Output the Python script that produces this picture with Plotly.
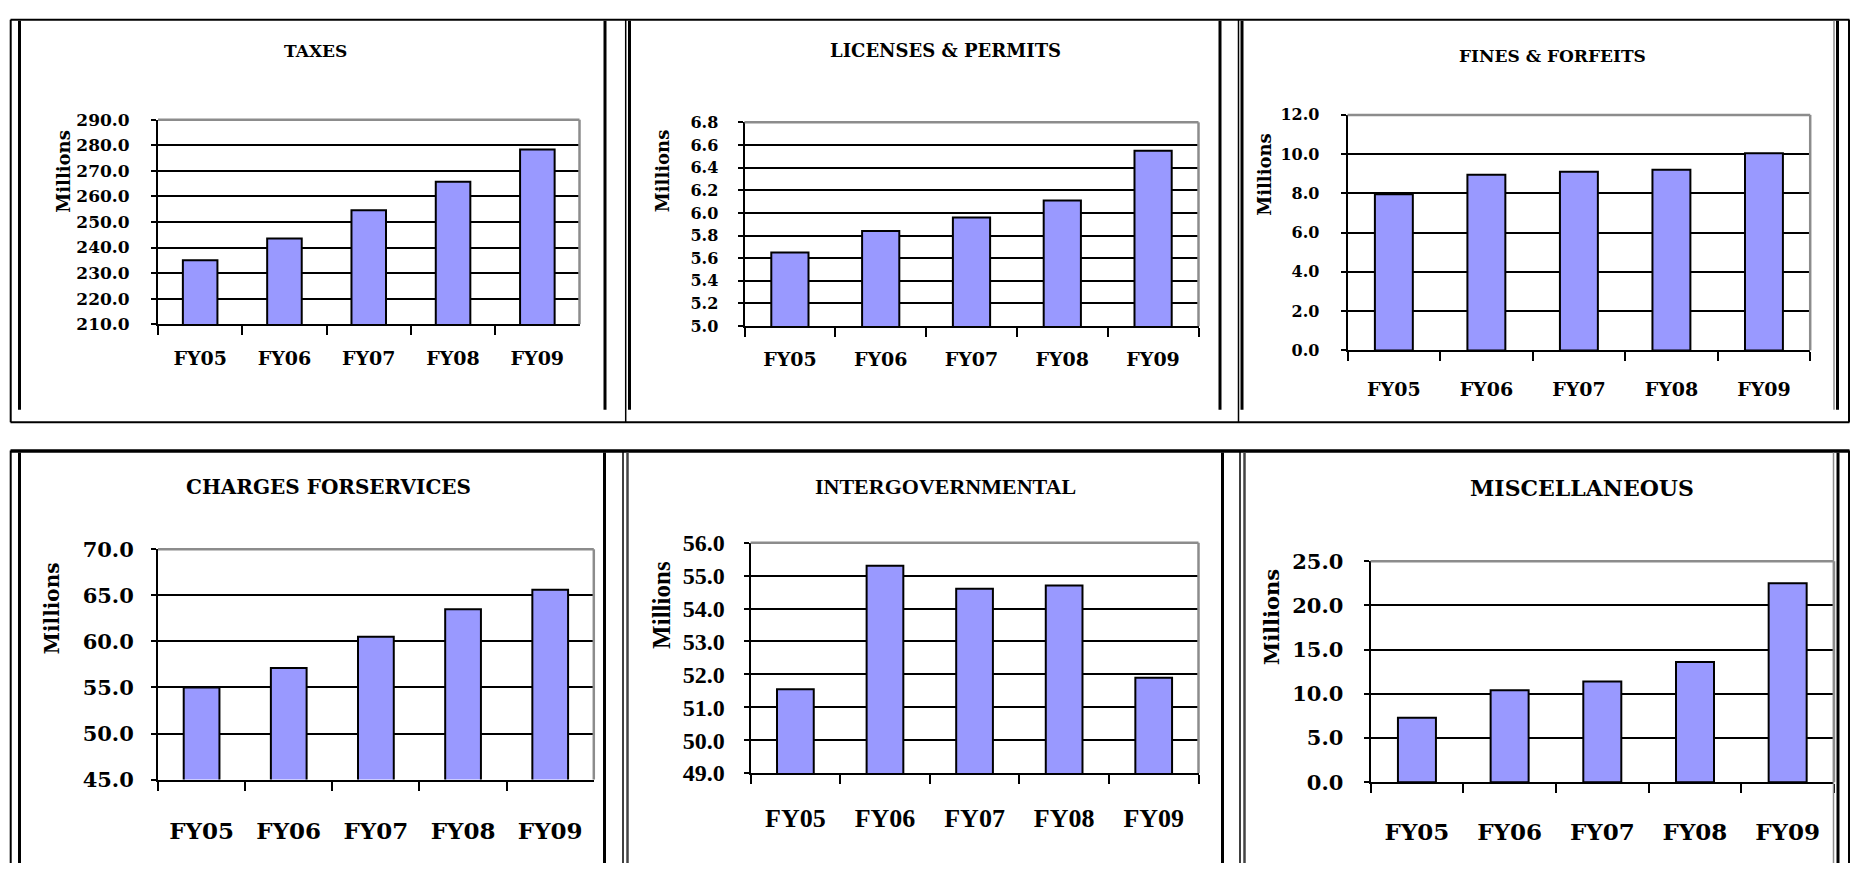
import plotly.graph_objects as go

# ---------------- data ----------------
categories = ["FY05", "FY06", "FY07", "FY08", "FY09"]
taxes = [235.0, 243.5, 254.6, 265.7, 278.4]
licenses = [5.65, 5.84, 5.96, 6.11, 6.55]
fines = [7.95, 8.95, 9.1, 9.2, 10.05]
charges = [55.0, 57.1, 60.5, 63.5, 65.6]
intergov = [51.55, 55.3, 54.6, 54.7, 51.9]
misc = [7.3, 10.4, 11.4, 13.6, 22.5]

titles = ["TAXES", "LICENSES & PERMITS", "FINES & FORFEITS",
          "CHARGES FORSERVICES", "INTERGOVERNMENTAL", "MISCELLANEOUS"]
series = [taxes, licenses, fines, charges, intergov, misc]
y_ranges = [(210, 290, 10), (5.0, 6.8, 0.2), (0, 12, 2),
            (45, 70, 5), (49, 56, 1), (0, 25, 5)]
y_title = "Millions"

# ---------------- layout (pixels) ----------------
W, H = 1851, 876
# plot area: left, right, top, bottom
boxes = [(158, 579.5, 110, 320.7), (744.5, 1198.5, 112.7, 322.7),
         (1347.6, 1810.2, 105, 347.7), (158, 593.8, 552.7, 790),
         (750.6, 1198.5, 546, 783.3), (1370.6, 1834, 565, 792.7)]
title_pos = [(315, 39), (945, 39), (1552.8, 44),
             (328, 488), (945.8, 488), (1581.5, 490)]
ytitle_pos = [(63.5, 163), (662, 163), (1265, 166.7),
              (51.4, 613), (662, 610), (1271.6, 623)]
DV = "DejaVu Serif"
LS = "Liberation Serif"
fonts = [  # family, title size, tick size, x label size, ytitle size
    (DV, 17, 17, 19, 18), (DV, 18, 16, 19, 18), (DV, 17, 16, 19, 18),
    (DV, 20, 21, 23, 20), (LS, 22, 24, 26, 25), (DV, 22, 21, 23, 21)]
xstand = [16, 15, 21, 30, 21, 28]
ystand = [18, 16, 18, 13, 14, 16]

def PX(x):
    return x / W

def PY(y):
    return 1 - y / H

fig = go.Figure()
annotations = []
shapes = []
BAR = "#9999FF"

for i in range(6):
    n = "" if i == 0 else str(i + 1)
    xa, ya = "x" + n, "y" + n
    l, r, t, b = boxes[i]
    fam, fs_t, fs_tick, fs_x, fs_yt = fonts[i]
    ymin, ymax, dt = y_ranges[i]
    fig.add_trace(go.Bar(x=categories, y=series[i], xaxis=xa, yaxis=ya,
                         marker=dict(color=BAR, line=dict(color="black", width=2)),
                         showlegend=False, hoverinfo="x+y"))
    fig.layout["xaxis" + n] = dict(
        domain=[PX(l), PX(r)], anchor=ya, type="category",
        range=[-0.5, 4.5], showline=True, linecolor="black", linewidth=2,
        ticks="outside", tickson="boundaries", ticklen=9, tickwidth=2,
        tickcolor="black", showgrid=False, ticklabelstandoff=xstand[i],
        tickfont=dict(family=fam, size=fs_x, color="black", weight="bold"),
        fixedrange=True)
    fig.layout["yaxis" + n] = dict(
        domain=[PY(b), PY(t)], anchor=xa, range=[ymin, ymax], dtick=dt,
        tick0=ymin, tickformat=".1f", showline=True, linecolor="black",
        linewidth=2, ticks="outside", ticklen=5, tickwidth=2,
        tickcolor="black", showgrid=True, gridcolor="black", gridwidth=2,
        zeroline=False, ticklabelstandoff=ystand[i],
        tickfont=dict(family=fam, size=fs_tick, color="black", weight="bold"),
        fixedrange=True)
    # gray top & right borders of the plot area
    shapes.append(dict(type="line", xref=xa + " domain", yref=ya + " domain",
                       x0=0, x1=1, y0=1, y1=1, line=dict(color="#8c8c8c", width=2.5),
                       layer="above"))
    shapes.append(dict(type="line", xref=xa + " domain", yref=ya + " domain",
                       x0=1, x1=1, y0=0, y1=1, line=dict(color="#8c8c8c", width=2.5),
                       layer="above"))
    tx, ty = title_pos[i]
    annotations.append(dict(text="<b>%s</b>" % titles[i], x=PX(tx), y=PY(ty),
                            xref="paper", yref="paper", showarrow=False,
                            xanchor="center", yanchor="middle",
                            font=dict(family=fam, size=fs_t, color="black")))
    mx, my = ytitle_pos[i]
    annotations.append(dict(text="<b>%s</b>" % y_title, x=PX(mx), y=PY(my),
                            xref="paper", yref="paper", showarrow=False,
                            textangle=-90, xanchor="center", yanchor="middle",
                            font=dict(family=fam, size=fs_yt, color="black")))

# ---------------- table / frame borders ----------------
def vline(x, y0, y1, w, c="black"):
    shapes.append(dict(type="line", xref="paper", yref="paper",
                       x0=PX(x), x1=PX(x), y0=PY(y0), y1=PY(y1),
                       line=dict(color=c, width=w), layer="above"))

def hline(y, x0, x1, w, c="black"):
    shapes.append(dict(type="line", xref="paper", yref="paper",
                       x0=PX(x0), x1=PX(x1), y0=PY(y), y1=PY(y),
                       line=dict(color=c, width=w), layer="above"))

# row 1
hline(7, 10.5, 1849.5, 2)
hline(421.7, 10.5, 1849.5, 2)
vline(10.7, 7, 421.7, 2)
vline(1849, 7, 421.7, 2)
vline(625.7, 7, 421.7, 1.5)
vline(1238.5, 7, 421.7, 1.5)
for x in (19.5, 605, 629.5, 1220, 1242, 1837.5):
    vline(x, 8, 409, 3)
vline(1834, 8, 409, 1.5, "#8c8c8c")
# row 2
hline(451.5, 10.5, 1849.5, 3.5)
vline(10.7, 451, 876, 2)
vline(1849, 451, 876, 2)
vline(623, 451, 876, 1.5)
vline(1240, 451, 876, 1.5)
for x in (19.5, 604.5, 1222.5, 1838):
    vline(x, 453, 876, 3)
for x in (627.5, 1244.5):
    vline(x, 453, 876, 2.5, "#444444")
vline(1833.5, 453, 876, 1.5, "#8c8c8c")

fig.update_layout(width=W, height=H, margin=dict(l=0, r=0, t=0, b=0),
                  paper_bgcolor="white", plot_bgcolor="white",
                  bargap=0.59, annotations=annotations, shapes=shapes)

fig.write_html("out.html")
